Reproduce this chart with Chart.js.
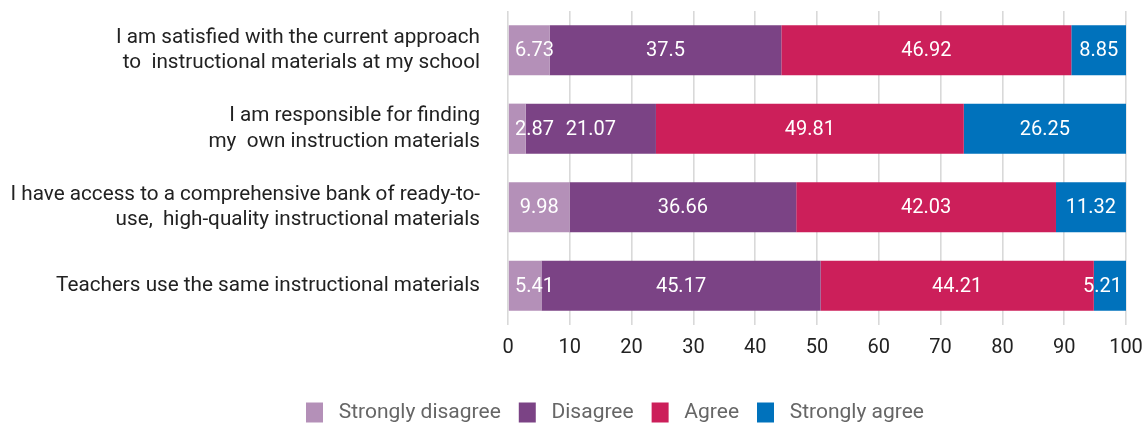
<!DOCTYPE html>
<html>
<head>
<meta charset="utf-8">
<script src="https://cdn.jsdelivr.net/npm/chart.js@4.4.1/dist/chart.umd.min.js"></script>
<style>
  html, body { margin: 0; padding: 0; background: #fff; }
  #wrap { width: 1145px; height: 425px; }
</style>
</head>
<body>
<div id="wrap"><canvas id="chart"></canvas></div>
<script>
const statements = [
  ["I am satisfied with the current approach", "to  instructional materials at my school"],
  ["I am responsible for finding", "my  own instruction materials"],
  ["I have access to a comprehensive bank of ready-to-", "use,  high-quality instructional materials"],
  "Teachers use the same instructional materials",
];

const stronglyDisagree = [6.73, 2.87, 9.98, 5.41];
const disagree = [37.5, 21.07, 36.66, 45.17];
const agree = [46.92, 49.81, 42.03, 44.21];
const stronglyAgree = [8.85, 26.25, 11.32, 5.21];

const xTicks = [0, 10, 20, 30, 40, 50, 60, 70, 80, 90, 100];

Chart.defaults.font.family = "Roboto, 'Noto Sans', sans-serif";

// white value labels in the middle of each segment, kept inside the plot
const barValues = {
  id: "barValues",
  afterDatasetsDraw(chart) {
    const ctx = chart.ctx;
    const area = chart.chartArea;
    ctx.save();
    ctx.fillStyle = "#ffffff";
    ctx.font = "20px Roboto, 'Noto Sans', sans-serif";
    ctx.textAlign = "center";
    ctx.textBaseline = "middle";
    chart.data.datasets.forEach((ds, i) => {
      chart.getDatasetMeta(i).data.forEach((bar, j) => {
        const text = String(ds.data[j]);
        const half = ctx.measureText(text).width / 2;
        let mid = (bar.x + bar.base) / 2;
        mid = Math.max(mid, area.left + 7 + half);
        mid = Math.min(mid, area.right - 4 - half);
        ctx.fillText(text, mid, bar.y + 1);
      });
    });
    ctx.restore();
  },
};

// nudge the legend a bit right and down
const legendShift = {
  id: "legendShift",
  afterLayout(chart) {
    const lg = chart.legend;
    lg.left += 52;
    lg.right += 52;
    lg.top += 8;
    lg.bottom += 8;
  },
};

new Chart(document.getElementById("chart"), {
  type: "bar",
  data: {
    labels: statements,
    datasets: [
      { label: "Strongly disagree", data: stronglyDisagree, backgroundColor: "#b490b8" },
      { label: "Disagree", data: disagree, backgroundColor: "#7b4385" },
      { label: "Agree", data: agree, backgroundColor: "#cc1f5a" },
      { label: "Strongly agree", data: stronglyAgree, backgroundColor: "#0072bc" },
    ],
  },
  plugins: [barValues, legendShift],
  options: {
    indexAxis: "y",
    responsive: true,
    maintainAspectRatio: false,
    animation: false,
    layout: { padding: { top: 11, right: 19, left: 0, bottom: 0 } },
    datasets: {
      bar: { barPercentage: 0.64, categoryPercentage: 1, borderWidth: 0 },
    },
    scales: {
      x: {
        stacked: true,
        min: 0,
        max: 100,
        afterBuildTicks: (scale) => {
          scale.ticks = xTicks.map((v) => ({ value: v }));
        },
        grid: { color: "#d9d9d9", lineWidth: 1.6, drawTicks: false },
        border: { display: false },
        ticks: { color: "#222", font: { size: 20 }, padding: 11, maxRotation: 0 },
        afterFit: (scale) => {
          scale.height = 51;
          scale.paddingLeft = 0;
          scale.paddingRight = 0;
        },
      },
      y: {
        stacked: true,
        grid: { display: false },
        border: { display: false },
        ticks: { color: "#222", font: { size: 20.7, lineHeight: 1.22 }, padding: 20 },
        afterFit: (scale) => {
          scale.width = 508;
          scale.paddingTop = 0;
          scale.paddingBottom = 0;
        },
      },
    },
    plugins: {
      tooltip: { enabled: false },
      legend: {
        position: "bottom",
        labels: {
          color: "#666",
          font: { size: 21 },
          boxWidth: 17,
          boxHeight: 20,
          padding: 18,
          generateLabels: (chart) =>
            Chart.defaults.plugins.legend.labels
              .generateLabels(chart)
              .map((item) => ({ ...item, text: " " + item.text })),
        },
      },
    },
  },
});
</script>
</body>
</html>
